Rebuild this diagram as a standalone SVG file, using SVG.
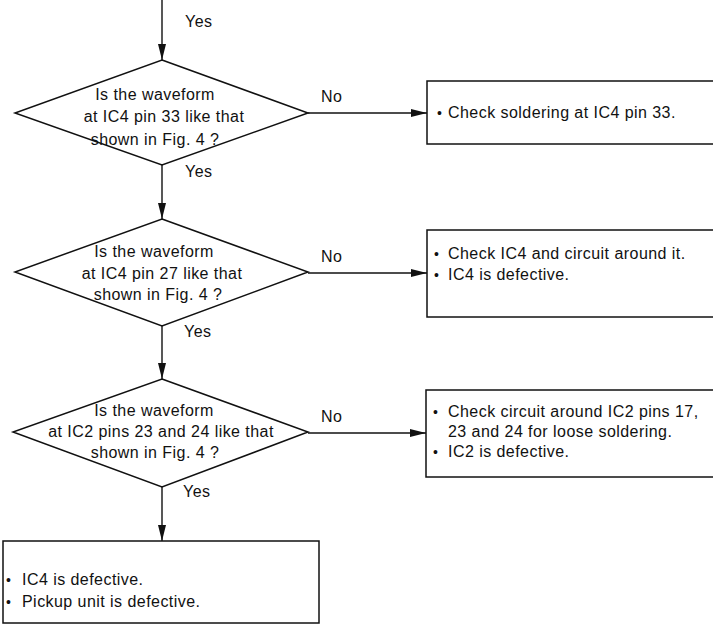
<svg xmlns="http://www.w3.org/2000/svg" width="713" height="627" viewBox="0 0 713 627">
<style>
text{font-family:"Liberation Sans",Arial,sans-serif;font-size:16px;letter-spacing:0.45px;fill:#111}
.c{text-anchor:middle}
.b{font-size:14px}
.shape{fill:#fff;stroke:#111;stroke-width:1.5}
.line{fill:none;stroke:#111;stroke-width:1.4}
</style>
<defs>
<marker id="ah" markerUnits="userSpaceOnUse" markerWidth="16" markerHeight="8" refX="16" refY="4" orient="auto">
<path d="M0,0 L16,4 L0,8 z" fill="#111"/>
</marker>
</defs>
<rect width="713" height="627" fill="#fff"/>
<g id="connectors">
<line class="line" x1="162" y1="0" x2="162" y2="60" marker-end="url(#ah)"/>
<line class="line" x1="162" y1="165" x2="162" y2="219" marker-end="url(#ah)"/>
<line class="line" x1="162" y1="326" x2="162" y2="379" marker-end="url(#ah)"/>
<line class="line" x1="162" y1="487" x2="162" y2="541" marker-end="url(#ah)"/>
<line class="line" x1="308" y1="113" x2="427" y2="113" marker-end="url(#ah)"/>
<line class="line" x1="308" y1="273" x2="427" y2="273" marker-end="url(#ah)"/>
<line class="line" x1="308" y1="433" x2="426" y2="433" marker-end="url(#ah)"/>
<text x="185" y="27">Yes</text>
<text x="185" y="177">Yes</text>
<text x="184" y="337">Yes</text>
<text x="183" y="497">Yes</text>
<text x="321" y="102">No</text>
<text x="321" y="262">No</text>
<text x="321" y="422">No</text>
</g>
<g id="d1">
<polygon class="shape" points="162,60 308,113 162,165 15,113"/>
<text class="c" x="155" y="100">Is the waveform</text>
<text class="c" x="164" y="122">at IC4 pin 33 like that</text>
<text class="c" x="155" y="145">shown in Fig. 4 ?</text>
</g>
<g id="d2">
<polygon class="shape" points="162,219 308,272 162,326 15,272"/>
<text class="c" x="154" y="257">Is the waveform</text>
<text class="c" x="162" y="279">at IC4 pin 27 like that</text>
<text class="c" x="158" y="300">shown in Fig. 4 ?</text>
</g>
<g id="d3">
<polygon class="shape" points="162,379 308,432 162,487 13,432"/>
<text class="c" x="154" y="416">Is the waveform</text>
<text class="c" x="161" y="437">at IC2 pins 23 and 24 like that</text>
<text class="c" x="155" y="458">shown in Fig. 4 ?</text>
</g>
<g id="b1">
<rect class="shape" x="427" y="81" width="300" height="63"/>
<text y="118"><tspan class="b" x="437">•</tspan><tspan x="448">Check soldering at IC4 pin 33.</tspan></text>
</g>
<g id="b2">
<rect class="shape" x="427" y="230" width="300" height="87"/>
<text y="259"><tspan class="b" x="434">•</tspan><tspan x="448">Check IC4 and circuit around it.</tspan></text>
<text y="280"><tspan class="b" x="434">•</tspan><tspan x="448">IC4 is defective.</tspan></text>
</g>
<g id="b3">
<rect class="shape" x="426" y="390" width="300" height="87"/>
<text y="417"><tspan class="b" x="433">•</tspan><tspan x="448">Check circuit around IC2 pins 17,</tspan></text>
<text x="448" y="437">23 and 24 for loose soldering.</text>
<text y="457"><tspan class="b" x="433">•</tspan><tspan x="448">IC2 is defective.</tspan></text>
</g>
<g id="b4">
<rect class="shape" x="3" y="541" width="316" height="82"/>
<text y="585"><tspan class="b" x="6">•</tspan><tspan x="22">IC4 is defective.</tspan></text>
<text y="607"><tspan class="b" x="6">•</tspan><tspan x="22">Pickup unit is defective.</tspan></text>
</g>
</svg>
